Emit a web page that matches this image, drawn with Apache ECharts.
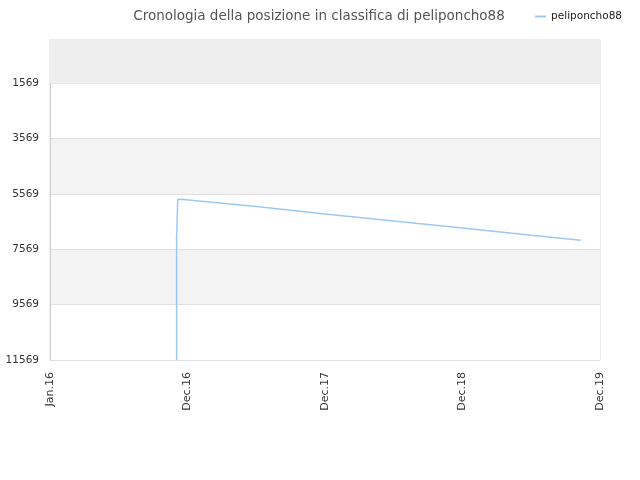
<!DOCTYPE html>
<html>
<head>
<meta charset="utf-8">
<script src="https://cdn.jsdelivr.net/npm/echarts@6/dist/echarts.min.js"></script>
<style>
  html, body { margin: 0; padding: 0; background: #fff; }
  #main { width: 640px; height: 480px; }
</style>
</head>
<body>
<div id="main"></div>
<script>
// x positions: 0 = Jan.16, 1 = Dec.16, 2 = Dec.17, 3 = Dec.18, 4 = Dec.19
var xLabels = ['Jan.16', 'Dec.16', 'Dec.17', 'Dec.18', 'Dec.19'];
var xPos = [0.921, 0.921, 0.929, 0.929, 0.97, 1.5, 2.0, 2.5, 3.0, 3.5, 3.86];
var ranks = [11569, 7130, 7100, 5760, 5765, 6020, 6287, 6545, 6800, 7060, 7237];
var yTicks = [1569, 3569, 5569, 7569, 9569, 11569];

var myChart = echarts.init(document.getElementById('main'));

// rank axis runs downwards: plot negated ranks so ticks start at -11569
var seriesData = xPos.map(function (x, i) {
    return [x, -ranks[i]];
});

var option = {
    animation: false,
    title: {
        text: 'Cronologia della posizione in classifica di peliponcho88',
        left: 314,
        top: 4,
        textAlign: 'center',
        textStyle: {
            fontFamily: 'DejaVu Sans',
            fontSize: 13.5,
            fontWeight: 'normal',
            color: '#555'
        }
    },
    legend: {
        right: 13,
        top: 6,
        itemWidth: 11,
        itemHeight: 2,
        itemGap: 8,
        icon: 'rect',
        textStyle: {
            fontFamily: 'DejaVu Sans',
            fontSize: 10.5,
            color: '#222'
        },
        data: ['peliponcho88']
    },
    grid: {
        left: 50,
        right: 40,
        top: 40,
        bottom: 120,
        show: true,
        borderColor: '#dcdcdc',
        borderWidth: 1,
        backgroundColor: 'transparent'
    },
    xAxis: {
        type: 'value',
        min: 0,
        max: 4,
        interval: 1,
        axisLine: { show: true, lineStyle: { color: '#d0d0d0' } },
        axisTick: { show: false },
        splitLine: { show: false },
        axisLabel: {
            rotate: 90,
            fontFamily: 'DejaVu Sans',
            fontSize: 11,
            color: '#333',
            margin: 12,
            formatter: function (v) {
                return xLabels[Math.round(v)];
            }
        }
    },
    yAxis: {
        type: 'value',
        min: -yTicks[yTicks.length - 1],
        max: 0,
        interval: 2000,
        axisLine: { show: true, lineStyle: { color: '#d0d0d0' } },
        axisTick: { show: false },
        splitLine: { show: true, lineStyle: { color: '#e0e0e0' } },
        splitArea: {
            show: true,
            areaStyle: { color: ['#ffffff', '#f3f3f3'] }
        },
        axisLabel: {
            fontFamily: 'DejaVu Sans',
            fontSize: 10.5,
            color: '#333',
            margin: 11,
            showMaxLabel: false,
            formatter: function (v) {
                return v === 0 ? '' : String(-v);
            }
        }
    },
    series: [{
        name: 'peliponcho88',
        type: 'line',
        symbol: 'none',
        data: seriesData,
        lineStyle: { color: '#9cc9f4', width: 1.5 },
        itemStyle: { color: '#9cc9f4' },
        markArea: {
            silent: true,
            itemStyle: { color: '#eeeeee' },
            data: [[{ yAxis: -yTicks[0] }, { yAxis: 0 }]]
        }
    }]
};
myChart.setOption(option);
</script>
</body>
</html>
